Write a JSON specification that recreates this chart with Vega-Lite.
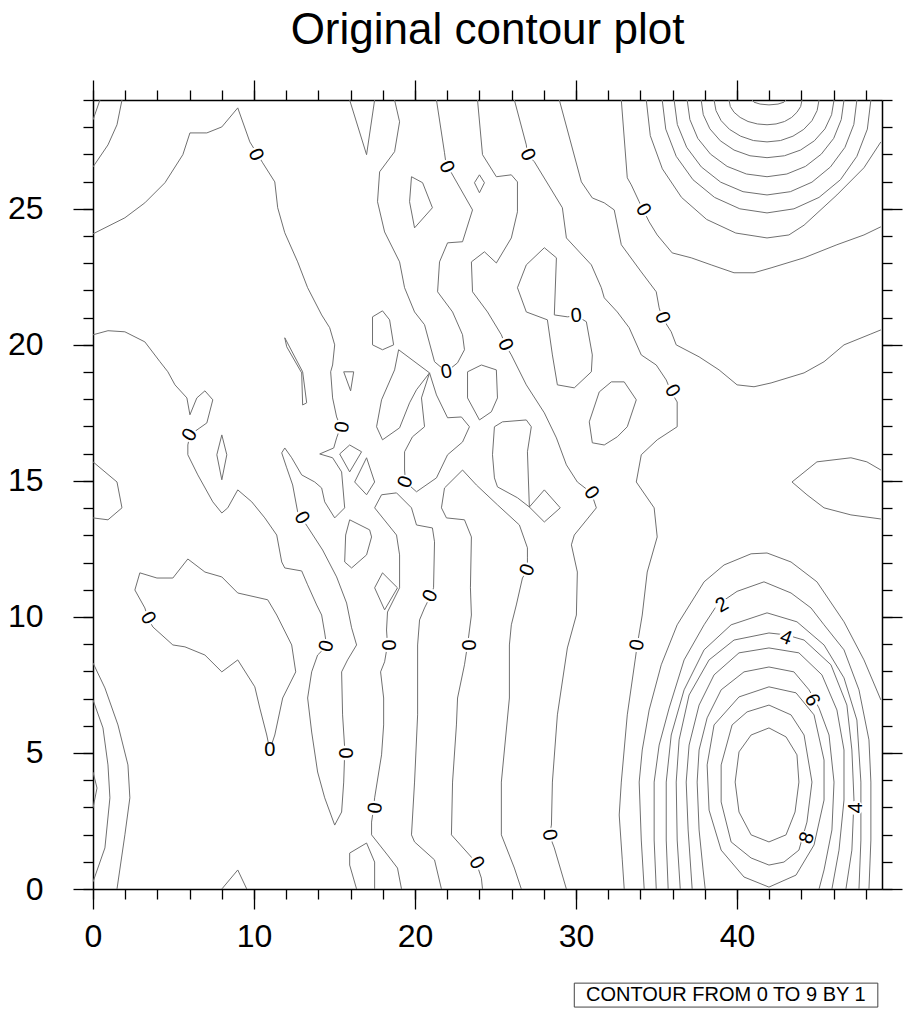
{
"$schema":"https://vega.github.io/schema/vega-lite/v6.json",
"width":789,"height":789,
"autosize":{"type":"none"},
"padding":{"left":93,"top":100,"right":31,"bottom":127},
"background":"white",
"title":{"text":"Original contour plot","fontSize":44,"font":"Liberation Sans","fontWeight":"normal","color":"black","anchor":"middle","offset":26},
"config":{"view":{"stroke":null},"axis":{"grid":false,"tickColor":"black","domainColor":"black","labelColor":"black","labelFont":"Liberation Sans","tickWidth":1.3,"domainWidth":1.5,"labelFlush":false,"labelOverlap":false}},
"resolve":{"axis":{"x":"independent","y":"independent"}},
"datasets":{
"lines":[
{"id":"S1","x":0.43,"y":29},{"id":"S1","x":0,"y":28.27},
{"id":"S2","x":1.8,"y":29},{"id":"S2","x":1.49,"y":28.09},{"id":"S2","x":0.93,"y":27.35},{"id":"S2","x":0,"y":26.54},
{"id":"C","x":0,"y":24.08},{"id":"C","x":1.98,"y":24.67},{"id":"C","x":3.22,"y":25.22},{"id":"C","x":4.47,"y":25.96},{"id":"C","x":5.58,"y":26.99},{"id":"C","x":6.02,"y":27.79},{"id":"C","x":7.07,"y":27.79},{"id":"C","x":8,"y":28.01},{"id":"C","x":8.99,"y":28.71},{"id":"C","x":9.74,"y":27.46},{"id":"C","x":10.54,"y":26.69},{"id":"C","x":11.29,"y":25.99},{"id":"C","x":11.47,"y":25.04},{"id":"C","x":11.91,"y":24.12},{"id":"C","x":12.71,"y":23.05},{"id":"C","x":13.33,"y":22.1},{"id":"C","x":14.2,"y":21.1},{"id":"C","x":14.7,"y":20.63},{"id":"C","x":15.01,"y":20},{"id":"C","x":14.88,"y":19.26},{"id":"C","x":14.76,"y":19.01},{"id":"C","x":14.88,"y":18.05},{"id":"C","x":15.13,"y":17.35},{"id":"C","x":15.38,"y":16.99},{"id":"C","x":15.13,"y":16.58},{"id":"C","x":14.95,"y":16.21},{"id":"C","x":14.08,"y":15.99},{"id":"C","x":14.88,"y":15.85},{"id":"C","x":15.44,"y":15.33},{"id":"C","x":15.63,"y":14.01},{"id":"C","x":15.01,"y":13.64},{"id":"C","x":14.39,"y":14.23},{"id":"C","x":14.2,"y":14.74},{"id":"C","x":13.77,"y":14.96},{"id":"C","x":12.96,"y":15.22},{"id":"C","x":12.34,"y":15.85},{"id":"C","x":11.91,"y":16.21},{"id":"C","x":11.72,"y":16.03},{"id":"C","x":12.03,"y":15.48},{"id":"C","x":12.4,"y":14.85},{"id":"C","x":12.71,"y":13.86},{"id":"C","x":12.96,"y":13.64},{"id":"C","x":13.33,"y":13.31},{"id":"C","x":14.26,"y":12.46},{"id":"C","x":15.13,"y":11.47},{"id":"C","x":15.75,"y":10.51},{"id":"C","x":16.06,"y":9.6},{"id":"C","x":16.37,"y":8.97},{"id":"C","x":15.81,"y":8.42},{"id":"C","x":15.44,"y":7.98},{"id":"C","x":15.5,"y":6.4},{"id":"C","x":15.63,"y":5.18},{"id":"C","x":15.63,"y":5},{"id":"C","x":15.57,"y":3.93},{"id":"C","x":15.44,"y":2.83},{"id":"C","x":15.01,"y":2.35},{"id":"C","x":14.39,"y":3.35},{"id":"C","x":13.95,"y":4.3},{"id":"C","x":13.58,"y":5.77},{"id":"C","x":13.33,"y":7.02},{"id":"C","x":13.58,"y":7.98},{"id":"C","x":13.95,"y":8.6},{"id":"C","x":14.51,"y":8.93},{"id":"C","x":14.39,"y":9.41},{"id":"C","x":14.2,"y":10.07},{"id":"C","x":13.89,"y":10.44},{"id":"C","x":13.33,"y":11.18},{"id":"C","x":12.96,"y":11.69},{"id":"C","x":11.91,"y":11.8},{"id":"C","x":11.72,"y":12.02},{"id":"C","x":11.41,"y":13.01},{"id":"C","x":10.67,"y":13.64},{"id":"C","x":9.86,"y":14.23},{"id":"C","x":8.99,"y":14.67},{"id":"C","x":8.37,"y":14.01},{"id":"C","x":8,"y":13.82},{"id":"C","x":7.44,"y":14.23},{"id":"C","x":6.51,"y":15.22},{"id":"C","x":5.89,"y":15.96},{"id":"C","x":5.89,"y":16.32},{"id":"C","x":6.02,"y":16.69},{"id":"C","x":6.64,"y":16.95},{"id":"C","x":7.07,"y":17.13},{"id":"C","x":7.44,"y":17.98},{"id":"C","x":6.95,"y":18.31},{"id":"C","x":6.45,"y":18.05},{"id":"C","x":6.02,"y":17.43},{"id":"C","x":5.83,"y":18.05},{"id":"C","x":5.09,"y":18.53},{"id":"C","x":4.65,"y":19.01},{"id":"C","x":4.16,"y":19.38},{"id":"C","x":3.22,"y":20.11},{"id":"C","x":1.98,"y":20.48},{"id":"C","x":0.93,"y":20.52},{"id":"C","x":0,"y":20.37},
{"id":"V","x":15.94,"y":29},{"id":"V","x":16.99,"y":26.99},{"id":"V","x":17.49,"y":29},
{"id":"U","x":18.73,"y":29},{"id":"U","x":19.04,"y":28.2},{"id":"U","x":18.73,"y":27.1},{"id":"U","x":17.8,"y":26.36},{"id":"U","x":17.67,"y":25.26},{"id":"U","x":18.11,"y":24.15},{"id":"U","x":19.04,"y":23.05},{"id":"U","x":19.35,"y":22.1},{"id":"U","x":19.97,"y":21.21},{"id":"U","x":20.59,"y":20.74},{"id":"U","x":21.21,"y":19.38},{"id":"U","x":21.95,"y":19.01},{"id":"U","x":22.64,"y":19.34},{"id":"U","x":23.07,"y":19.82},{"id":"U","x":22.95,"y":20.37},{"id":"U","x":22.33,"y":21.21},{"id":"U","x":21.4,"y":21.95},{"id":"U","x":21.52,"y":23.05},{"id":"U","x":22.02,"y":23.75},{"id":"U","x":22.95,"y":23.79},{"id":"U","x":23.57,"y":24.96},{"id":"U","x":22.26,"y":26.32},{"id":"U","x":21.95,"y":26.54},{"id":"U","x":21.83,"y":27.06},{"id":"U","x":21.33,"y":29},
{"id":"F","x":23.88,"y":29},{"id":"F","x":24.19,"y":26.99},{"id":"F","x":25.05,"y":26.18},{"id":"F","x":25.98,"y":26.25},{"id":"F","x":26.36,"y":25.99},{"id":"F","x":26.36,"y":24.89},{"id":"F","x":25.98,"y":23.93},{"id":"F","x":25.05,"y":23.01},{"id":"F","x":24.31,"y":23.42},{"id":"F","x":23.5,"y":23.05},{"id":"F","x":23.57,"y":21.95},{"id":"F","x":24.5,"y":21.21},{"id":"F","x":25.36,"y":20.37},{"id":"F","x":25.61,"y":20},{"id":"F","x":25.98,"y":19.63},{"id":"F","x":26.91,"y":18.53},{"id":"F","x":28.03,"y":17.5},{"id":"F","x":28.78,"y":16.58},{"id":"F","x":29.4,"y":15.59},{"id":"F","x":30.08,"y":14.96},{"id":"F","x":30.95,"y":14.56},{"id":"F","x":31.26,"y":14.01},{"id":"F","x":29.89,"y":13.01},{"id":"F","x":29.71,"y":12.65},{"id":"F","x":30.08,"y":11.65},{"id":"F","x":30.02,"y":10.07},{"id":"F","x":29.46,"y":8.86},{"id":"F","x":28.84,"y":6.4},{"id":"F","x":28.53,"y":3.93},{"id":"F","x":28.47,"y":2.35},{"id":"F","x":28.34,"y":1.99},{"id":"F","x":28.65,"y":1.51},{"id":"F","x":29.4,"y":0},
{"id":"G","x":26.17,"y":29},{"id":"G","x":26.91,"y":27.35},{"id":"G","x":26.98,"y":26.99},{"id":"G","x":27.41,"y":26.73},{"id":"G","x":29.15,"y":25.04},{"id":"G","x":29.4,"y":23.93},{"id":"G","x":30.95,"y":22.94},{"id":"G","x":31.57,"y":22.1},{"id":"G","x":31.75,"y":21.73},{"id":"G","x":32.56,"y":21.21},{"id":"G","x":33.3,"y":20.63},{"id":"G","x":34.05,"y":19.63},{"id":"G","x":34.98,"y":19.26},{"id":"G","x":35.6,"y":18.71},{"id":"G","x":35.91,"y":18.27},{"id":"G","x":36.28,"y":17.9},{"id":"G","x":36.28,"y":16.99},{"id":"G","x":35.04,"y":16.51},{"id":"G","x":34.05,"y":15.96},{"id":"G","x":33.74,"y":14.96},{"id":"G","x":34.85,"y":14.01},{"id":"G","x":35.04,"y":12.94},{"id":"G","x":34.42,"y":11.65},{"id":"G","x":34.11,"y":10.07},{"id":"G","x":33.8,"y":8.97},{"id":"G","x":33.67,"y":8.42},{"id":"G","x":33.18,"y":6.4},{"id":"G","x":32.81,"y":3.93},{"id":"G","x":32.68,"y":2.72},{"id":"G","x":32.87,"y":1.07},{"id":"G","x":32.99,"y":0},
{"id":"H","x":28.96,"y":29},{"id":"H","x":30.33,"y":25.99},{"id":"H","x":31.01,"y":25.4},{"id":"H","x":31.75,"y":25.22},{"id":"H","x":32.37,"y":24.96},{"id":"H","x":32.81,"y":23.68},{"id":"H","x":34.05,"y":22.68},{"id":"H","x":34.98,"y":21.95},{"id":"H","x":35.16,"y":21.36},{"id":"H","x":35.35,"y":21},{"id":"H","x":35.91,"y":20.48},{"id":"H","x":36.22,"y":20},{"id":"H","x":37.64,"y":19.56},{"id":"H","x":38.88,"y":19.08},{"id":"H","x":40,"y":18.53},{"id":"H","x":41.05,"y":18.46},{"id":"H","x":42.11,"y":18.6},{"id":"H","x":44.16,"y":18.97},{"id":"H","x":45.4,"y":19.38},{"id":"H","x":46.64,"y":20},{"id":"H","x":48.31,"y":20.4},{"id":"H","x":48.93,"y":20.55},
{"id":"K","x":32.81,"y":29},{"id":"K","x":33.18,"y":26.14},{"id":"K","x":33.43,"y":25.88},{"id":"K","x":33.92,"y":25.26},{"id":"K","x":34.17,"y":24.96},{"id":"K","x":34.54,"y":24.52},{"id":"K","x":35.04,"y":24.04},{"id":"K","x":35.97,"y":23.38},{"id":"K","x":37.15,"y":23.2},{"id":"K","x":38.39,"y":22.94},{"id":"K","x":39.81,"y":22.65},{"id":"K","x":41.05,"y":22.65},{"id":"K","x":42.11,"y":22.83},{"id":"K","x":44.16,"y":23.2},{"id":"K","x":46.2,"y":23.68},{"id":"K","x":47.88,"y":24.04},{"id":"K","x":48.93,"y":24.34},
{"id":"A1","x":40.93,"y":29},{"id":"A1","x":41.05,"y":28.92},{"id":"A1","x":41.43,"y":28.85},{"id":"A1","x":41.98,"y":28.82},{"id":"A1","x":42.54,"y":28.85},{"id":"A1","x":42.91,"y":28.92},{"id":"A1","x":43.04,"y":29},
{"id":"A2","x":39.5,"y":29},{"id":"A2","x":39.58,"y":28.76},{"id":"A2","x":39.81,"y":28.55},{"id":"A2","x":40.19,"y":28.36},{"id":"A2","x":40.68,"y":28.21},{"id":"A2","x":41.26,"y":28.12},{"id":"A2","x":41.86,"y":28.09},{"id":"A2","x":42.42,"y":28.12},{"id":"A2","x":42.95,"y":28.21},{"id":"A2","x":43.39,"y":28.36},{"id":"A2","x":43.72,"y":28.55},{"id":"A2","x":43.95,"y":28.76},{"id":"A2","x":44.03,"y":29},
{"id":"A3","x":38.57,"y":29},{"id":"A3","x":38.69,"y":28.61},{"id":"A3","x":39.01,"y":28.24},{"id":"A3","x":39.53,"y":27.92},{"id":"A3","x":40.22,"y":27.67},{"id":"A3","x":41.01,"y":27.51},{"id":"A3","x":41.86,"y":27.46},{"id":"A3","x":42.7,"y":27.51},{"id":"A3","x":43.47,"y":27.67},{"id":"A3","x":44.14,"y":27.92},{"id":"A3","x":44.65,"y":28.24},{"id":"A3","x":44.97,"y":28.61},{"id":"A3","x":45.09,"y":29},
{"id":"A4","x":37.77,"y":29},{"id":"A4","x":37.9,"y":28.46},{"id":"A4","x":38.31,"y":27.94},{"id":"A4","x":38.96,"y":27.5},{"id":"A4","x":39.81,"y":27.16},{"id":"A4","x":40.8,"y":26.95},{"id":"A4","x":41.86,"y":26.88},{"id":"A4","x":42.94,"y":26.95},{"id":"A4","x":43.94,"y":27.16},{"id":"A4","x":44.8,"y":27.5},{"id":"A4","x":45.46,"y":27.94},{"id":"A4","x":45.87,"y":28.46},{"id":"A4","x":46.02,"y":29},
{"id":"A5","x":36.9,"y":29},{"id":"A5","x":37.07,"y":28.28},{"id":"A5","x":37.56,"y":27.59},{"id":"A5","x":38.35,"y":27.01},{"id":"A5","x":39.38,"y":26.56},{"id":"A5","x":40.58,"y":26.28},{"id":"A5","x":41.86,"y":26.18},{"id":"A5","x":43.09,"y":26.28},{"id":"A5","x":44.25,"y":26.56},{"id":"A5","x":45.23,"y":27.01},{"id":"A5","x":46,"y":27.59},{"id":"A5","x":46.47,"y":28.28},{"id":"A5","x":46.64,"y":29},
{"id":"A6","x":36.09,"y":29},{"id":"A6","x":36.29,"y":28.1},{"id":"A6","x":36.87,"y":27.26},{"id":"A6","x":37.78,"y":26.54},{"id":"A6","x":38.98,"y":25.98},{"id":"A6","x":40.37,"y":25.63},{"id":"A6","x":41.86,"y":25.51},{"id":"A6","x":43.31,"y":25.63},{"id":"A6","x":44.65,"y":25.98},{"id":"A6","x":45.8,"y":26.54},{"id":"A6","x":46.7,"y":27.26},{"id":"A6","x":47.25,"y":28.1},{"id":"A6","x":47.44,"y":29},
{"id":"A7","x":35.35,"y":29},{"id":"A7","x":35.57,"y":27.93},{"id":"A7","x":36.22,"y":26.93},{"id":"A7","x":37.26,"y":26.07},{"id":"A7","x":38.6,"y":25.42},{"id":"A7","x":40.17,"y":25.0},{"id":"A7","x":41.86,"y":24.85},{"id":"A7","x":43.53,"y":25.0},{"id":"A7","x":45.09,"y":25.42},{"id":"A7","x":46.42,"y":26.07},{"id":"A7","x":47.44,"y":26.93},{"id":"A7","x":48.09,"y":27.93},{"id":"A7","x":48.31,"y":29},
{"id":"A8","x":34.36,"y":29},{"id":"A8","x":34.61,"y":27.69},{"id":"A8","x":35.36,"y":26.47},{"id":"A8","x":36.55,"y":25.42},{"id":"A8","x":38.11,"y":24.61},{"id":"A8","x":39.92,"y":24.11},{"id":"A8","x":41.86,"y":23.93},{"id":"A8","x":43.22,"y":24.04},{"id":"A8","x":44.16,"y":24.4},{"id":"A8","x":46.2,"y":25.51},{"id":"A8","x":47.88,"y":26.51},{"id":"A8","x":48.93,"y":27.46},
{"id":"L1","x":17.36,"y":21.03},{"id":"L1","x":17.98,"y":21.25},{"id":"L1","x":18.42,"y":20.92},{"id":"L1","x":18.67,"y":20},{"id":"L1","x":17.98,"y":19.82},{"id":"L1","x":17.36,"y":20},{"id":"L1","x":17.36,"y":21.03},
{"id":"L2","x":19.78,"y":26.18},{"id":"L2","x":20.47,"y":25.96},{"id":"L2","x":21.08,"y":25.04},{"id":"L2","x":19.97,"y":24.3},{"id":"L2","x":19.66,"y":25.26},{"id":"L2","x":19.78,"y":26.18},
{"id":"Td","x":23.69,"y":25.96},{"id":"Td","x":24,"y":26.25},{"id":"Td","x":24.31,"y":25.96},{"id":"Td","x":24,"y":25.59},{"id":"Td","x":23.69,"y":25.96},
{"id":"Sl","x":11.91,"y":20.26},{"id":"Sl","x":13.02,"y":19.01},{"id":"Sl","x":13.27,"y":17.87},{"id":"Sl","x":13.02,"y":17.79},{"id":"Sl","x":12.96,"y":18.97},{"id":"Sl","x":12.03,"y":19.93},{"id":"Sl","x":11.91,"y":20.26},
{"id":"Tr","x":15.57,"y":19.01},{"id":"Tr","x":16.19,"y":19.01},{"id":"Tr","x":16,"y":18.31},{"id":"Tr","x":15.57,"y":19.01},
{"id":"P1","x":18.98,"y":19.82},{"id":"P1","x":20.9,"y":18.97},{"id":"P1","x":20.09,"y":18.35},{"id":"P1","x":19.66,"y":17.87},{"id":"P1","x":19.04,"y":16.95},{"id":"P1","x":17.98,"y":16.51},{"id":"P1","x":17.61,"y":16.99},{"id":"P1","x":17.92,"y":17.98},{"id":"P1","x":18.73,"y":19.08},{"id":"P1","x":18.98,"y":19.82},
{"id":"AL","x":20.9,"y":18.97},{"id":"AL","x":20.4,"y":18.05},{"id":"AL","x":20.59,"y":16.99},{"id":"AL","x":19.84,"y":16.62},{"id":"AL","x":19.35,"y":16.07},{"id":"AL","x":19.35,"y":15.4},{"id":"AL","x":19.41,"y":14.96},{"id":"AL","x":20.09,"y":14.6},{"id":"AL","x":21.33,"y":15.11},{"id":"AL","x":22.02,"y":15.96},{"id":"AL","x":22.95,"y":16.43},{"id":"AL","x":23.38,"y":16.99},{"id":"AL","x":22.88,"y":17.35},{"id":"AL","x":22.02,"y":17.32},{"id":"AL","x":21.33,"y":18.16},{"id":"AL","x":20.9,"y":18.97},
{"id":"L6","x":23.26,"y":19.01},{"id":"L6","x":24.12,"y":19.26},{"id":"L6","x":25.05,"y":19.08},{"id":"L6","x":25.12,"y":18.05},{"id":"L6","x":24.74,"y":17.54},{"id":"L6","x":24,"y":17.24},{"id":"L6","x":23.26,"y":18.05},{"id":"L6","x":23.26,"y":19.01},
{"id":"Pi","x":26.91,"y":22.94},{"id":"Pi","x":28.03,"y":23.57},{"id":"Pi","x":28.78,"y":23.2},{"id":"Pi","x":28.65,"y":21.1},{"id":"Pi","x":29.46,"y":21.03},{"id":"Pi","x":30.02,"y":21.07},{"id":"Pi","x":30.64,"y":20.85},{"id":"Pi","x":31.01,"y":19.63},{"id":"Pi","x":30.95,"y":19.01},{"id":"Pi","x":29.89,"y":18.42},{"id":"Pi","x":28.84,"y":18.53},{"id":"Pi","x":28.53,"y":19.63},{"id":"Pi","x":28.22,"y":20.92},{"id":"Pi","x":26.91,"y":21.21},{"id":"Pi","x":26.36,"y":22.1},{"id":"Pi","x":26.91,"y":22.94},
{"id":"L3","x":31.44,"y":18.27},{"id":"L3","x":32.19,"y":18.64},{"id":"L3","x":32.99,"y":18.64},{"id":"L3","x":33.74,"y":17.98},{"id":"L3","x":33.18,"y":16.99},{"id":"L3","x":32.56,"y":16.62},{"id":"L3","x":31.75,"y":16.32},{"id":"L3","x":31.01,"y":16.4},{"id":"L3","x":30.82,"y":17.17},{"id":"L3","x":31.44,"y":18.27},
{"id":"L5","x":24.93,"y":16.99},{"id":"L5","x":25.43,"y":17.17},{"id":"L5","x":26.91,"y":17.24},{"id":"L5","x":27.22,"y":16.99},{"id":"L5","x":26.98,"y":16.07},{"id":"L5","x":27.1,"y":14.04},{"id":"L5","x":26.36,"y":14.38},{"id":"L5","x":25.12,"y":14.78},{"id":"L5","x":24.93,"y":15.11},{"id":"L5","x":24.81,"y":15.96},{"id":"L5","x":24.93,"y":16.99},
{"id":"Dm","x":27.1,"y":14.04},{"id":"Dm","x":28.03,"y":14.67},{"id":"Dm","x":29.02,"y":14.01},{"id":"Dm","x":28.03,"y":13.49},{"id":"Dm","x":27.1,"y":14.04},
{"id":"D1","x":15.32,"y":15.99},{"id":"D1","x":15.94,"y":16.32},{"id":"D1","x":16.68,"y":16.07},{"id":"D1","x":15.94,"y":15.33},{"id":"D1","x":15.32,"y":15.99},
{"id":"D2","x":16.25,"y":14.96},{"id":"D2","x":16.99,"y":15.85},{"id":"D2","x":17.49,"y":14.96},{"id":"D2","x":16.99,"y":14.49},{"id":"D2","x":16.25,"y":14.96},
{"id":"P2","x":15.94,"y":13.57},{"id":"P2","x":17.18,"y":13.2},{"id":"P2","x":17.3,"y":12.94},{"id":"P2","x":16.99,"y":12.28},{"id":"P2","x":16.06,"y":11.8},{"id":"P2","x":15.63,"y":12.02},{"id":"P2","x":15.69,"y":13.01},{"id":"P2","x":15.94,"y":13.57},
{"id":"P3","x":17.98,"y":11.62},{"id":"P3","x":18.91,"y":11.07},{"id":"P3","x":18.11,"y":10.26},{"id":"P3","x":17.49,"y":11.07},{"id":"P3","x":17.98,"y":11.62},
{"id":"M12","x":19.16,"y":0},{"id":"M12","x":18.91,"y":0.77},{"id":"M12","x":18.29,"y":1.25},{"id":"M12","x":17.3,"y":1.99},{"id":"M12","x":17.3,"y":2.46},{"id":"M12","x":17.43,"y":2.98},{"id":"M12","x":17.49,"y":3.35},{"id":"M12","x":17.92,"y":4.93},{"id":"M12","x":18.05,"y":6.03},{"id":"M12","x":18.05,"y":7.02},{"id":"M12","x":17.86,"y":7.98},{"id":"M12","x":18.11,"y":8.35},{"id":"M12","x":18.29,"y":8.97},{"id":"M12","x":18.23,"y":9.52},{"id":"M12","x":18.29,"y":10.18},{"id":"M12","x":19.04,"y":11.07},{"id":"M12","x":19.04,"y":12.28},{"id":"M12","x":18.85,"y":13.01},{"id":"M12","x":17.49,"y":14.01},{"id":"M12","x":17.92,"y":14.49},{"id":"M12","x":18.85,"y":14.56},{"id":"M12","x":19.78,"y":14.01},{"id":"M12","x":20.09,"y":13.38},{"id":"M12","x":21.08,"y":13.27},{"id":"M12","x":21.21,"y":12.76},{"id":"M12","x":21.15,"y":11.07},{"id":"M12","x":20.96,"y":10.77},{"id":"M12","x":20.59,"y":10.33},{"id":"M12","x":20.28,"y":9.89},{"id":"M12","x":20.16,"y":8.97},{"id":"M12","x":20.16,"y":6.4},{"id":"M12","x":19.97,"y":3.93},{"id":"M12","x":19.78,"y":1.99},{"id":"M12","x":19.97,"y":1.73},{"id":"M12","x":21.21,"y":1.07},{"id":"M12","x":21.64,"y":0},
{"id":"M3","x":24.19,"y":0},{"id":"M3","x":24.12,"y":0.4},{"id":"M3","x":23.81,"y":0.96},{"id":"M3","x":23.38,"y":1.25},{"id":"M3","x":22.26,"y":1.99},{"id":"M3","x":22.33,"y":3.93},{"id":"M3","x":22.57,"y":6.03},{"id":"M3","x":22.64,"y":7.02},{"id":"M3","x":23.07,"y":8.24},{"id":"M3","x":23.26,"y":8.97},{"id":"M3","x":23.5,"y":10.07},{"id":"M3","x":23.44,"y":11.07},{"id":"M3","x":23.5,"y":12.94},{"id":"M3","x":23.07,"y":13.57},{"id":"M3","x":21.95,"y":13.64},{"id":"M3","x":21.64,"y":14.01},{"id":"M3","x":21.83,"y":14.74},{"id":"M3","x":22.95,"y":15.4},{"id":"M3","x":23.81,"y":14.85},{"id":"M3","x":25.12,"y":14.12},{"id":"M3","x":26.48,"y":13.38},{"id":"M3","x":26.98,"y":12.54},{"id":"M3","x":26.98,"y":12.17},{"id":"M3","x":26.98,"y":11.73},{"id":"M3","x":26.67,"y":11.43},{"id":"M3","x":26.29,"y":10.44},{"id":"M3","x":25.98,"y":9.71},{"id":"M3","x":25.86,"y":8.97},{"id":"M3","x":25.86,"y":7.02},{"id":"M3","x":25.36,"y":3.93},{"id":"M3","x":25.36,"y":1.99},{"id":"M3","x":26.17,"y":0.77},{"id":"M3","x":26.6,"y":0},
{"id":"BP","x":16.37,"y":0},{"id":"BP","x":15.94,"y":0.88},{"id":"BP","x":15.94,"y":1.32},{"id":"BP","x":16.99,"y":1.69},{"id":"BP","x":17.49,"y":0.99},{"id":"BP","x":17.49,"y":0},
{"id":"BP2","x":8,"y":0},{"id":"BP2","x":8.99,"y":0.7},{"id":"BP2","x":9.55,"y":0},
{"id":"LB","x":0,"y":15.7},{"id":"LB","x":1.49,"y":14.96},{"id":"LB","x":1.8,"y":14.01},{"id":"LB","x":0.93,"y":13.57},{"id":"LB","x":0,"y":13.64},
{"id":"SD","x":8,"y":16.69},{"id":"SD","x":8.31,"y":15.96},{"id":"SD","x":8,"y":15.04},{"id":"SD","x":7.69,"y":15.96},{"id":"SD","x":8,"y":16.69},
{"id":"LL","x":2.91,"y":11.62},{"id":"LL","x":3.97,"y":11.43},{"id":"LL","x":4.96,"y":11.43},{"id":"LL","x":5.89,"y":12.13},{"id":"LL","x":6.95,"y":11.65},{"id":"LL","x":8,"y":11.47},{"id":"LL","x":8.99,"y":10.88},{"id":"LL","x":10.85,"y":10.63},{"id":"LL","x":11.41,"y":10.07},{"id":"LL","x":12.34,"y":8.97},{"id":"LL","x":12.59,"y":7.98},{"id":"LL","x":11.78,"y":7.02},{"id":"LL","x":11.29,"y":5.66},{"id":"LL","x":10.98,"y":5.11},{"id":"LL","x":10.79,"y":5.66},{"id":"LL","x":10.36,"y":6.65},{"id":"LL","x":10.05,"y":7.43},{"id":"LL","x":8.99,"y":8.42},{"id":"LL","x":8,"y":7.98},{"id":"LL","x":6.95,"y":8.6},{"id":"LL","x":5.71,"y":8.9},{"id":"LL","x":4.96,"y":8.97},{"id":"LL","x":3.72,"y":9.63},{"id":"LL","x":3.41,"y":9.96},{"id":"LL","x":3.22,"y":10.33},{"id":"LL","x":2.6,"y":10.99},{"id":"LL","x":2.91,"y":11.62},
{"id":"LE1","x":0,"y":8.31},{"id":"LE1","x":0.74,"y":7.39},{"id":"LE1","x":1.55,"y":6.03},{"id":"LE1","x":2.17,"y":4.56},{"id":"LE1","x":2.29,"y":3.35},{"id":"LE1","x":1.98,"y":1.99},{"id":"LE1","x":1.49,"y":0},
{"id":"LE2","x":0,"y":6.95},{"id":"LE2","x":0.62,"y":5.92},{"id":"LE2","x":0.93,"y":4.56},{"id":"LE2","x":1.05,"y":3.35},{"id":"LE2","x":0.74,"y":1.51},{"id":"LE2","x":0,"y":0.26},
{"id":"LE3","x":0,"y":4.3},{"id":"LE3","x":0.25,"y":3.71},{"id":"LE3","x":0,"y":2.98},
{"id":"Ln","x":48.93,"y":15.4},{"id":"Ln","x":48.06,"y":15.7},{"id":"Ln","x":47.07,"y":15.85},{"id":"Ln","x":44.96,"y":15.7},{"id":"Ln","x":43.41,"y":14.96},{"id":"Ln","x":44.34,"y":14.49},{"id":"Ln","x":45.4,"y":14.01},{"id":"Ln","x":47.07,"y":13.75},{"id":"Ln","x":48.93,"y":13.6},
{"id":"O1","x":34.23,"y":0},{"id":"O1","x":34.05,"y":1.8},{"id":"O1","x":33.92,"y":3.93},{"id":"O1","x":34.11,"y":5.11},{"id":"O1","x":34.54,"y":6.58},{"id":"O1","x":35.29,"y":8.24},{"id":"O1","x":36.28,"y":9.71},{"id":"O1","x":37.95,"y":11.29},{"id":"O1","x":39.19,"y":11.91},{"id":"O1","x":40.87,"y":12.32},{"id":"O1","x":41.86,"y":12.35},{"id":"O1","x":43.35,"y":12.02},{"id":"O1","x":44.96,"y":11.29},{"id":"O1","x":46.64,"y":9.82},{"id":"O1","x":47.88,"y":8.42},{"id":"O1","x":48.93,"y":6.95},
{"id":"O2","x":34.98,"y":0},{"id":"O2","x":34.85,"y":1.8},{"id":"O2","x":34.85,"y":3.93},{"id":"O2","x":35.16,"y":5.29},{"id":"O2","x":35.78,"y":6.65},{"id":"O2","x":36.71,"y":8.42},{"id":"O2","x":37.95,"y":9.71},{"id":"O2","x":38.76,"y":10.44},{"id":"O2","x":40,"y":10.94},{"id":"O2","x":41.67,"y":11.29},{"id":"O2","x":43.35,"y":10.88},{"id":"O2","x":44.59,"y":10.33},{"id":"O2","x":45.4,"y":9.71},{"id":"O2","x":46.64,"y":8.79},{"id":"O2","x":47.57,"y":7.32},{"id":"O2","x":48.19,"y":5.48},{"id":"O2","x":48.31,"y":3.93},{"id":"O2","x":48.31,"y":1.8},{"id":"O2","x":48.19,"y":0},
{"id":"O3","x":35.72,"y":0},{"id":"O3","x":35.6,"y":1.8},{"id":"O3","x":35.6,"y":3.93},{"id":"O3","x":35.91,"y":5.66},{"id":"O3","x":36.71,"y":7.32},{"id":"O3","x":37.95,"y":8.79},{"id":"O3","x":39.63,"y":9.71},{"id":"O3","x":41.86,"y":10.15},{"id":"O3","x":43.72,"y":9.82},{"id":"O3","x":45.4,"y":8.97},{"id":"O3","x":46.64,"y":7.76},{"id":"O3","x":47.44,"y":6.21},{"id":"O3","x":47.69,"y":3.93},{"id":"O3","x":47.69,"y":1.8},{"id":"O3","x":47.57,"y":0},
{"id":"O4","x":36.47,"y":0},{"id":"O4","x":36.28,"y":1.8},{"id":"O4","x":36.22,"y":3.93},{"id":"O4","x":36.4,"y":5.48},{"id":"O4","x":37.02,"y":7.13},{"id":"O4","x":38.26,"y":8.42},{"id":"O4","x":39.81,"y":9.15},{"id":"O4","x":41.98,"y":9.41},{"id":"O4","x":43.04,"y":9.34},{"id":"O4","x":44.16,"y":9.15},{"id":"O4","x":45.83,"y":8.24},{"id":"O4","x":46.82,"y":6.76},{"id":"O4","x":47.13,"y":5.11},{"id":"O4","x":47.26,"y":3.27},{"id":"O4","x":47.13,"y":1.43},{"id":"O4","x":46.76,"y":0},
{"id":"O5","x":37.21,"y":0},{"id":"O5","x":36.96,"y":2.17},{"id":"O5","x":36.84,"y":3.93},{"id":"O5","x":37.02,"y":5.29},{"id":"O5","x":37.64,"y":6.76},{"id":"O5","x":38.57,"y":7.87},{"id":"O5","x":40.12,"y":8.68},{"id":"O5","x":41.98,"y":8.86},{"id":"O5","x":43.84,"y":8.68},{"id":"O5","x":45.27,"y":7.87},{"id":"O5","x":46.2,"y":6.58},{"id":"O5","x":46.64,"y":5.11},{"id":"O5","x":46.64,"y":3.27},{"id":"O5","x":46.33,"y":1.43},{"id":"O5","x":45.89,"y":0},
{"id":"O6","x":38.02,"y":0},{"id":"O6","x":37.89,"y":0.7},{"id":"O6","x":37.64,"y":2.17},{"id":"O6","x":37.52,"y":3.93},{"id":"O6","x":37.64,"y":5.11},{"id":"O6","x":38.14,"y":6.29},{"id":"O6","x":39.01,"y":7.32},{"id":"O6","x":40.43,"y":7.98},{"id":"O6","x":41.98,"y":8.16},{"id":"O6","x":43.53,"y":7.98},{"id":"O6","x":44.47,"y":7.32},{"id":"O6","x":45.09,"y":6.65},{"id":"O6","x":45.71,"y":5.66},{"id":"O6","x":46.02,"y":3.93},{"id":"O6","x":45.89,"y":2.17},{"id":"O6","x":45.4,"y":0.7},{"id":"O6","x":45.09,"y":0},
{"id":"O7","x":41.98,"y":7.43},{"id":"O7","x":43.66,"y":7.21},{"id":"O7","x":44.78,"y":6.4},{"id":"O7","x":45.4,"y":4.74},{"id":"O7","x":45.4,"y":3.27},{"id":"O7","x":44.78,"y":1.62},{"id":"O7","x":43.66,"y":0.51},{"id":"O7","x":41.98,"y":0.07},{"id":"O7","x":40.43,"y":0.44},{"id":"O7","x":39.01,"y":1.43},{"id":"O7","x":38.26,"y":2.9},{"id":"O7","x":38.14,"y":4.56},{"id":"O7","x":38.57,"y":6.03},{"id":"O7","x":40.12,"y":7.06},{"id":"O7","x":41.98,"y":7.43},
{"id":"O8","x":41.98,"y":6.76},{"id":"O8","x":43.35,"y":6.4},{"id":"O8","x":44.16,"y":5.66},{"id":"O8","x":44.65,"y":3.93},{"id":"O8","x":44.34,"y":2.46},{"id":"O8","x":43.84,"y":1.43},{"id":"O8","x":42.91,"y":0.99},{"id":"O8","x":41.98,"y":0.88},{"id":"O8","x":40.87,"y":1.14},{"id":"O8","x":39.63,"y":1.73},{"id":"O8","x":39.01,"y":3.2},{"id":"O8","x":39.01,"y":4.56},{"id":"O8","x":39.69,"y":6.03},{"id":"O8","x":40.62,"y":6.51},{"id":"O8","x":41.98,"y":6.76},
{"id":"O9","x":41.98,"y":5.92},{"id":"O9","x":43.04,"y":5.59},{"id":"O9","x":43.72,"y":4.93},{"id":"O9","x":43.84,"y":3.93},{"id":"O9","x":43.6,"y":2.83},{"id":"O9","x":43.04,"y":1.99},{"id":"O9","x":41.98,"y":1.73},{"id":"O9","x":40.87,"y":1.99},{"id":"O9","x":40.12,"y":2.83},{"id":"O9","x":39.88,"y":3.93},{"id":"O9","x":40.12,"y":5.04},{"id":"O9","x":40.87,"y":5.66},{"id":"O9","x":41.98,"y":5.92}
],
"labels":[
{"x":10.11,"y":26.99,"t":"0","a":65},{"x":21.95,"y":26.54,"t":"0","a":65},{"x":26.98,"y":26.99,"t":"0","a":65},{"x":34.17,"y":24.96,"t":"0","a":60},{"x":30.02,"y":21.07,"t":"0","a":-5},{"x":35.35,"y":21.0,"t":"0","a":70},{"x":25.61,"y":20.0,"t":"0","a":65},{"x":21.95,"y":19.01,"t":"0","a":-10},{"x":35.97,"y":18.31,"t":"0","a":60},{"x":15.38,"y":16.99,"t":"0","a":100},{"x":6.02,"y":16.69,"t":"0","a":-60},{"x":19.41,"y":14.96,"t":"0","a":-70},{"x":30.95,"y":14.56,"t":"0","a":55},{"x":12.96,"y":13.64,"t":"0","a":60},{"x":26.98,"y":11.73,"t":"0","a":-70},{"x":20.96,"y":10.77,"t":"0","a":-65},{"x":3.41,"y":9.96,"t":"0","a":60},{"x":14.51,"y":8.93,"t":"0","a":-75},{"x":18.29,"y":8.97,"t":"0","a":90},{"x":23.26,"y":8.97,"t":"0","a":90},{"x":33.8,"y":8.97,"t":"0","a":-80},{"x":10.98,"y":5.11,"t":"0","a":0},{"x":15.63,"y":5.0,"t":"0","a":90},{"x":17.43,"y":2.98,"t":"0","a":95},{"x":28.34,"y":1.99,"t":"0","a":80},{"x":23.81,"y":0.96,"t":"0","a":60},
{"x":39.07,"y":10.44,"t":"2","a":-30},{"x":43.04,"y":9.23,"t":"4","a":20},{"x":44.65,"y":6.95,"t":"6","a":65},{"x":44.34,"y":1.88,"t":"8","a":-70},{"x":47.38,"y":2.98,"t":"4","a":-90}
],
"note":[{"x":29.89,"x2":48.74,"y":-3.46,"y2":-4.34,"tx":39.3,"ty":-3.9,"t":"CONTOUR FROM 0 TO 9 BY 1"}]
},
"layer":[
{"data":{"name":"lines"},
 "mark":{"type":"line","stroke":"#707070","strokeWidth":1,"clip":true},
 "encoding":{
  "x":{"field":"x","type":"quantitative","scale":{"domain":[0,49],"nice":false,"zero":false},"axis":{"orient":"bottom","values":[0,10,20,30,40],"tickSize":20,"labelPadding":12,"labelFontSize":32,"domain":true,"title":null}},
  "y":{"field":"y","type":"quantitative","scale":{"domain":[0,29],"nice":false,"zero":false},"axis":{"orient":"left","values":[0,5,10,15,20,25],"tickSize":20,"labelPadding":30,"labelFontSize":32,"domain":true,"title":null}},
  "detail":{"field":"id","type":"nominal"},
  "order":{"value":null}
 }},
{"data":{"name":"labels"},
 "mark":{"type":"point","shape":"circle","filled":true,"color":"white","opacity":1,"size":210},
 "encoding":{
  "x":{"field":"x","type":"quantitative","scale":{"domain":[0,49],"nice":false,"zero":false},"axis":{"orient":"bottom","values":[0,2,4,6,8,10,12,14,16,18,20,22,24,26,28,30,32,34,36,38,40,42,44,46,48],"tickSize":10,"labels":false,"domain":false,"title":null}},
  "y":{"field":"y","type":"quantitative","scale":{"domain":[0,29],"nice":false,"zero":false},"axis":{"orient":"left","values":[0,1,2,3,4,5,6,7,8,9,10,11,12,13,14,15,16,17,18,19,20,21,22,23,24,25,26,27,28,29],"tickSize":10,"labels":false,"domain":false,"title":null}}
 }},
{"data":{"name":"labels"},
 "mark":{"type":"text","font":"Liberation Sans","fontSize":20,"color":"black","align":"center","baseline":"middle"},
 "encoding":{
  "x":{"field":"x","type":"quantitative","scale":{"domain":[0,49],"nice":false,"zero":false},"axis":{"orient":"top","values":[0,10,20,30,40],"tickSize":20,"labels":false,"domain":true,"title":null}},
  "y":{"field":"y","type":"quantitative","scale":{"domain":[0,29],"nice":false,"zero":false},"axis":{"orient":"right","values":[0,5,10,15,20,25],"tickSize":20,"labels":false,"domain":true,"title":null}},
  "text":{"field":"t","type":"nominal"},
  "angle":{"field":"a","type":"quantitative","scale":null}
 }},
{"data":{"name":"note"},
 "mark":{"type":"rect","fill":"white","stroke":"#444444","strokeWidth":1},
 "encoding":{
  "x":{"field":"x","type":"quantitative","scale":{"domain":[0,49],"nice":false,"zero":false},"axis":{"orient":"top","values":[0,2,4,6,8,10,12,14,16,18,20,22,24,26,28,30,32,34,36,38,40,42,44,46,48],"tickSize":10,"labels":false,"domain":false,"title":null}},
  "x2":{"field":"x2"},
  "y":{"field":"y","type":"quantitative","scale":{"domain":[0,29],"nice":false,"zero":false},"axis":{"orient":"right","values":[0,1,2,3,4,5,6,7,8,9,10,11,12,13,14,15,16,17,18,19,20,21,22,23,24,25,26,27,28,29],"tickSize":10,"labels":false,"domain":false,"title":null}},
  "y2":{"field":"y2"}
 }},
{"data":{"name":"note"},
 "mark":{"type":"text","font":"Liberation Sans","fontSize":20,"color":"black","align":"center","baseline":"middle"},
 "encoding":{
  "x":{"field":"tx","type":"quantitative","scale":{"domain":[0,49],"nice":false,"zero":false},"axis":null},
  "y":{"field":"ty","type":"quantitative","scale":{"domain":[0,29],"nice":false,"zero":false},"axis":null},
  "text":{"field":"t","type":"nominal"}
 }}
]
}
